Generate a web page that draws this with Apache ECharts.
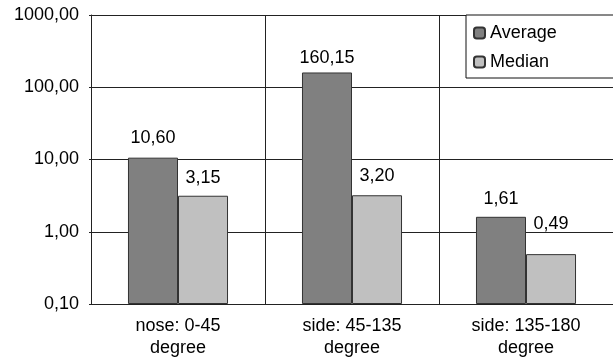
<!DOCTYPE html>
<html>
<head>
<meta charset="utf-8">
<script src="https://cdn.jsdelivr.net/npm/echarts@6/dist/echarts.min.js"></script>
<style>
  html, body { margin: 0; padding: 0; background: #fff; }
  #chart { width: 613px; height: 360px; }
</style>
</head>
<body>
<div id="chart"></div>
<script>
// Heading-angle groups and their average / median values (log scale)
const categories = ['nose: 0-45\ndegree', 'side: 45-135\ndegree', 'side: 135-180\ndegree'];
const averageValues = [10.60, 160.15, 1.61];
const medianValues = [3.15, 3.20, 0.49];
const seriesNames = ['Average', 'Median'];

// gap between each value label and the top of its bar, in px
const averageLabelGap = [11, 5, 9];
const medianLabelGap = [9, 10, 21];

const FONT = '"Liberation Sans", Arial, sans-serif';
const LINE = '#222';

// decimal comma with two digits
const fmt = v => Number(v).toFixed(2).replace('.', ',');

const chart = echarts.init(document.getElementById('chart'), null, { renderer: 'canvas' });

const barLabel = {
  show: true,
  position: 'top',
  distance: 10,
  color: '#000',
  fontSize: 18,
  fontFamily: FONT,
  formatter: p => fmt(p.value)
};

const withGaps = (values, gaps) =>
  values.map((v, i) => ({ value: v, label: { distance: gaps[i] } }));

chart.setOption({
  animation: false,
  backgroundColor: '#fff',
  grid: { left: 91, right: 0, top: 15, bottom: 56, containLabel: false },
  legend: {
    orient: 'vertical',
    left: 466,
    top: 15,
    data: seriesNames,
    icon: 'roundRect',
    itemWidth: 11,
    itemHeight: 11,
    itemGap: 11,
    padding: [9, 60, 7, 7],
    borderColor: '#111',
    borderWidth: 1,
    backgroundColor: '#fff',
    textStyle: { fontSize: 18, fontFamily: FONT, color: '#000' }
  },
  xAxis: {
    type: 'category',
    data: categories,
    boundaryGap: true,
    axisLine: { show: true, lineStyle: { color: LINE, width: 1 } },
    axisTick: { show: false },
    splitLine: { show: true, lineStyle: { color: LINE, width: 1 } },
    axisLabel: {
      color: '#000',
      fontSize: 18,
      fontFamily: FONT,
      lineHeight: 22,
      margin: 11,
      interval: 0
    }
  },
  yAxis: {
    type: 'log',
    logBase: 10,
    min: 0.1,
    max: 1000,
    startValue: 0.1,
    axisLine: { show: true, lineStyle: { color: LINE, width: 1 } },
    axisTick: { show: true, length: 2, lineStyle: { color: LINE } },
    splitLine: { show: true, lineStyle: { color: LINE, width: 1 } },
    axisLabel: {
      color: '#000',
      fontSize: 18,
      fontFamily: FONT,
      margin: 12,
      formatter: v => fmt(v)
    }
  },
  series: [
    {
      name: seriesNames[0],
      type: 'bar',
      data: withGaps(averageValues, averageLabelGap),
      barGap: '0%',
      barCategoryGap: '42.5%',
      itemStyle: { color: '#808080', borderColor: '#333', borderWidth: 1 },
      label: barLabel
    },
    {
      name: seriesNames[1],
      type: 'bar',
      data: withGaps(medianValues, medianLabelGap),
      barGap: '0%',
      barCategoryGap: '42.5%',
      itemStyle: { color: '#c0c0c0', borderColor: '#333', borderWidth: 1 },
      label: barLabel
    }
  ]
});
</script>
</body>
</html>
